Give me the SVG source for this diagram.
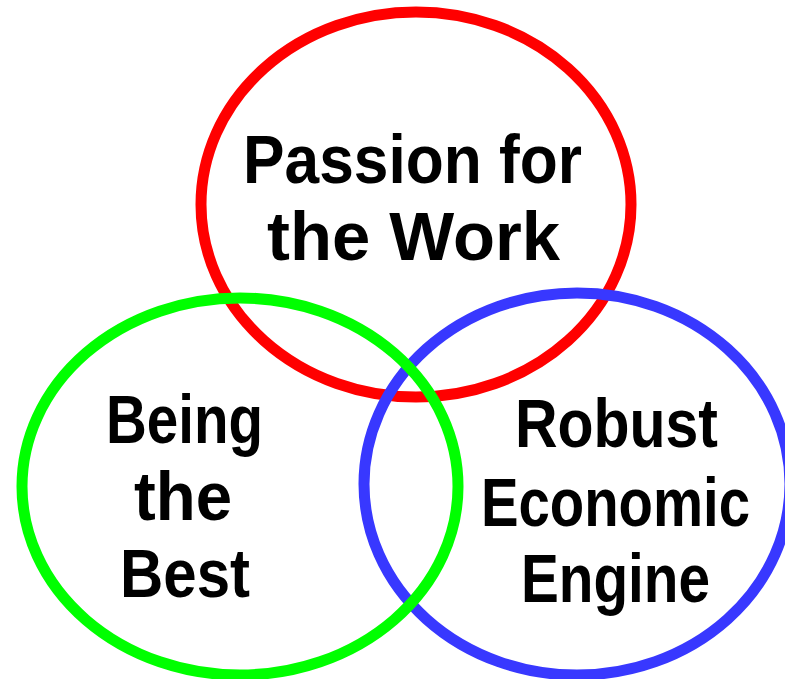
<svg xmlns="http://www.w3.org/2000/svg" width="785" height="679" viewBox="0 0 785 679">
<style>
.ring{fill:none;stroke-width:11}
.lbl{font-family:"Liberation Sans",Arial,sans-serif;font-weight:bold;font-size:68px;fill:#000;text-anchor:middle}
</style>
<rect width="785" height="679" fill="#fff"/>
<g id="passion">
<ellipse class="ring" cx="416" cy="204.5" rx="215" ry="192.5" stroke="#ff0000"/>
</g>
<g id="economic">
<ellipse class="ring" cx="577" cy="484" rx="213" ry="191" stroke="#3838ff"/>
</g>
<g id="best">
<ellipse class="ring" cx="240" cy="486.5" rx="218" ry="188.5" stroke="#00ff00"/>
</g>
<g id="labels">
<text class="lbl" x="412.5" y="183" textLength="339" lengthAdjust="spacingAndGlyphs">Passion for</text>
<text class="lbl" x="413.5" y="260" textLength="293" lengthAdjust="spacingAndGlyphs">the Work</text>
<text class="lbl" x="184.5" y="443" textLength="157" lengthAdjust="spacingAndGlyphs">Being</text>
<text class="lbl" x="183" y="520" textLength="98" lengthAdjust="spacingAndGlyphs">the</text>
<text class="lbl" x="185" y="597" textLength="130" lengthAdjust="spacingAndGlyphs">Best</text>
<text class="lbl" x="616.5" y="447" textLength="203" lengthAdjust="spacingAndGlyphs">Robust</text>
<text class="lbl" x="615.5" y="526" textLength="269" lengthAdjust="spacingAndGlyphs">Economic</text>
<text class="lbl" x="615.5" y="602" textLength="189" lengthAdjust="spacingAndGlyphs">Engine</text>
</g>
</svg>
